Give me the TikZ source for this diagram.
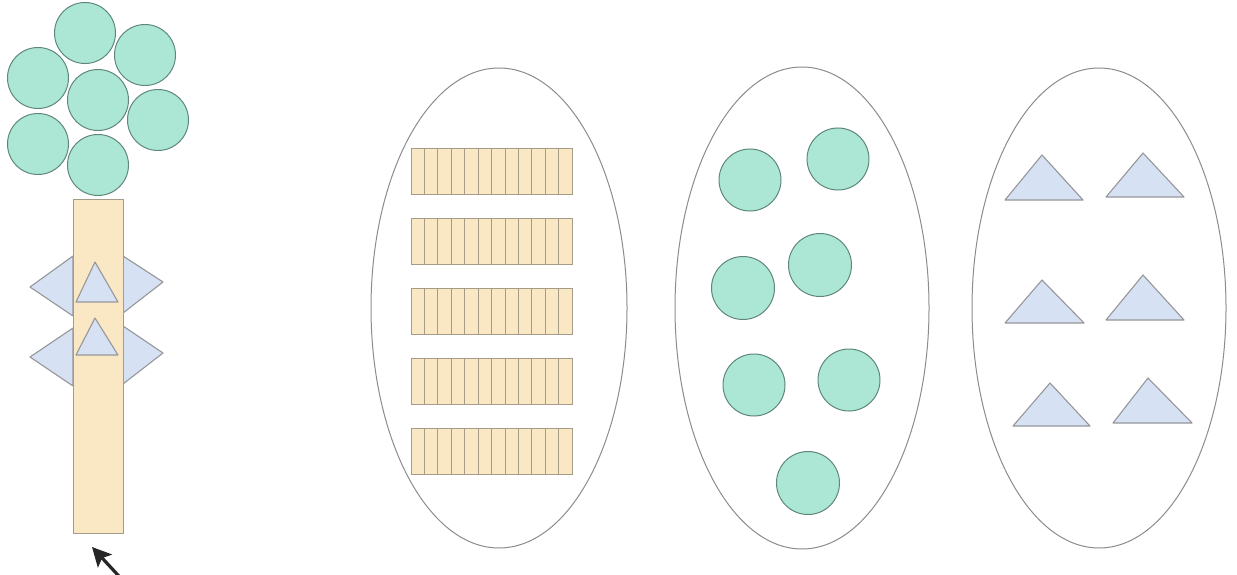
\documentclass[tikz,border=0pt]{standalone}
\usetikzlibrary{arrows.meta}
\definecolor{mint}{RGB}{172,231,214}
\definecolor{mintline}{RGB}{95,135,125}
\definecolor{cream}{RGB}{250,232,196}
\definecolor{creamline}{RGB}{165,155,135}
\definecolor{ice}{RGB}{214,226,243}
\definecolor{iceline}{RGB}{150,150,155}
\definecolor{ovalline}{RGB}{140,140,140}
\begin{document}
\begin{tikzpicture}[x=1pt,y=-1pt,
  ball/.style={circle,draw=mintline,fill=mint,line width=1pt,minimum size=#1,inner sep=0pt},
  ball/.default=61pt,
  tri/.style={draw=iceline,fill=ice,line width=1.1pt,line join=round},
  bar/.style={draw=creamline,fill=cream,line width=0.9pt},
  oval/.style={draw=ovalline,line width=1pt}]
\useasboundingbox (0,0) rectangle (1237,575);
\fill[white] (0,0) rectangle (1237,575);
% ---- tree ----
\node[ball] (t1) at (85,33) {};
\node[ball] (t2) at (145,55) {};
\node[ball] (t3) at (38,78) {};
\node[ball] (t4) at (98,100) {};
\node[ball] (t5) at (158,120) {};
\node[ball] (t6) at (38,144) {};
\node[ball] (t7) at (98,165) {};
% side kites
\draw[tri] (73,256) -- (30,287) -- (73,316) -- cycle;
\draw[tri] (123,256) -- (163,282) -- (123,313) -- cycle;
\draw[tri] (73,328) -- (30,357) -- (73,386) -- cycle;
\draw[tri] (123,326) -- (163,353) -- (123,384) -- cycle;
% trunk
\draw[bar] (73,199) rectangle (123,533);
\draw[tri] (95,262) -- (118,302) -- (76,302) -- cycle;
\draw[tri] (95,318) -- (118,355) -- (76,355) -- cycle;
% arrow
\coordinate (atail) at (128,586);
\coordinate (ahead) at (92,547);
\draw[line width=3.2pt,black!85,-{Stealth[length=19pt,width=19pt,inset=4pt]}] (atail) -- (ahead);
% ---- ellipses ----
\draw[oval] (499,308) ellipse [x radius=128, y radius=240];
\draw[oval] (802,308) ellipse [x radius=127, y radius=241];
\draw[oval] (1099,308) ellipse [x radius=127, y radius=240];
% bars
\foreach \y in {148,218,288,358,428}{
  \draw[bar] (411,\y) rectangle (572,\y+46);
  \foreach \i in {1,...,11}{
    \draw[creamline,line width=0.7pt] (411+\i*13.42,\y) -- (411+\i*13.42,\y+46);
  }
}
% circles
\node[ball=62pt] (c1) at (750,180) {};
\node[ball=62pt] (c2) at (838,159) {};
\node[ball=63pt] (c3) at (743,288) {};
\node[ball=63pt] (c4) at (820,265) {};
\node[ball=62pt] (c5) at (754,385) {};
\node[ball=62pt] (c6) at (849,380) {};
\node[ball=63pt] (c7) at (808,483) {};
% triangles
\draw[tri] (1042,155) -- (1083,200) -- (1005,200) -- cycle;
\draw[tri] (1143,153) -- (1184,197) -- (1106,197) -- cycle;
\draw[tri] (1042,280) -- (1084,323) -- (1005,323) -- cycle;
\draw[tri] (1143,275) -- (1184,320) -- (1106,320) -- cycle;
\draw[tri] (1050,383) -- (1090,426) -- (1013,426) -- cycle;
\draw[tri] (1148,378) -- (1192,423) -- (1113,423) -- cycle;
\end{tikzpicture}
\end{document}
